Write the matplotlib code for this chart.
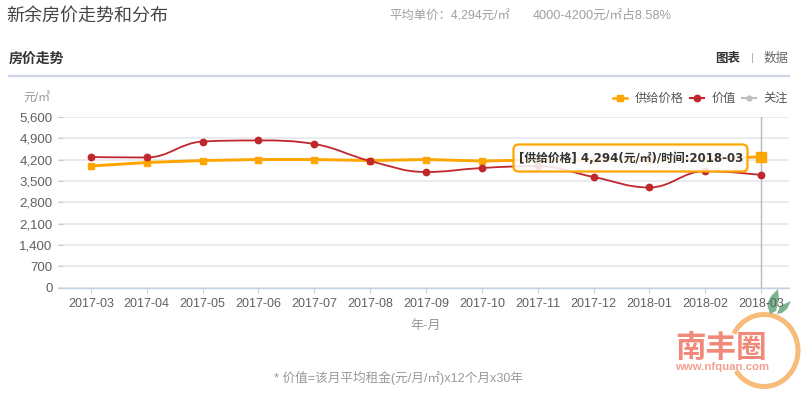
import matplotlib
matplotlib.use('Agg')
import matplotlib.pyplot as plt
from matplotlib.lines import Line2D
from matplotlib.patches import Arc, FancyBboxPatch, PathPatch, Polygon
from matplotlib.path import Path

plt.rcParams['font.family'] = ['Liberation Sans', 'Noto Sans CJK SC', 'DejaVu Sans']

months = ['2017-03', '2017-04', '2017-05', '2017-06', '2017-07', '2017-08', '2017-09',
          '2017-10', '2017-11', '2017-12', '2018-01', '2018-02', '2018-03']
supply = [3990, 4105, 4170, 4204, 4204, 4170, 4204, 4155, 4190, 4190, 4190, 4215, 4294]
value = [4285, 4270, 4795, 4830, 4713, 4155, 3793, 3925, 3990, 3630, 3285, 3826, 3695]
yticks = [0, 700, 1400, 2100, 2800, 3500, 4200, 4900, 5600]

W, H = 805, 393
ORANGE = '#ffa500'
RED = '#c0272d'
AXIS = '#c0d0e0'


def spline_path(xs, ys, smooth=1.5):
    # same smoothing highcharts uses for its spline series
    verts = [(xs[0], ys[0])]
    codes = [Path.MOVETO]
    n = len(xs)
    right = (xs[0], ys[0])
    for i in range(1, n):
        if i < n - 1:
            lx = (smooth * xs[i] + xs[i - 1]) / (smooth + 1)
            ly = (smooth * ys[i] + ys[i - 1]) / (smooth + 1)
            rx = (smooth * xs[i] + xs[i + 1]) / (smooth + 1)
            ry = (smooth * ys[i] + ys[i + 1]) / (smooth + 1)
            slope = (ry - ly) / (rx - lx)
            corr = slope * (xs[i] - lx) + ly - ys[i]
            ly -= corr
            ry -= corr
            if (ly > ys[i] and ly > ys[i - 1]) or (ly < ys[i] and ly < ys[i - 1]):
                ly = max(ys[i], ys[i - 1]) if ly > ys[i] else min(ys[i], ys[i - 1])
                ry = 2 * ys[i] - ly
            if (ry > ys[i] and ry > ys[i + 1]) or (ry < ys[i] and ry < ys[i + 1]):
                ry = max(ys[i], ys[i + 1]) if ry > ys[i] else min(ys[i], ys[i + 1])
                ly = 2 * ys[i] - ry
        else:
            lx, ly = xs[i], ys[i]
            rx, ry = xs[i], ys[i]
        verts += [right, (lx, ly), (xs[i], ys[i])]
        codes += [Path.CURVE4, Path.CURVE4, Path.CURVE4]
        right = (rx, ry)
    return Path(verts, codes)


def pixel_axes(zorder):
    a = fig.add_axes([0, 0, 1, 1], facecolor='none', zorder=zorder)
    a.set_xlim(0, W)
    a.set_ylim(H, 0)
    a.axis('off')
    return a


fig = plt.figure(figsize=(W / 100, H / 100), dpi=100, facecolor='white')

# watermark sits under the chart so the tick labels show over it
logo = pixel_axes(0)
logo.add_patch(Arc((764, 350.5), 68, 72, theta1=-151, theta2=144, color='#f7bb7a', lw=3.6))
logo.add_patch(Polygon([(770, 314), (767, 304), (771, 296), (778, 289), (779, 300), (776, 311)],
                       closed=True, fc='#7cb48f', ec='none'))
logo.add_patch(Polygon([(777, 314), (780, 306), (791, 301), (787, 309), (782, 313)],
                       closed=True, fc='#7cb48f', ec='none'))
logo.text(721, 348.5, '南丰圈', fontsize=22, color='#f0897a', fontweight='bold', ha='center', va='center')
logo.text(722, 367.5, 'www.nfquan.com', fontsize=8.2, color='#f2a090', fontweight='bold', ha='center',
          va='center')

# chart axes
ax = fig.add_axes([58 / W, 1 - 287.5 / H, (789 - 58) / W, (287.5 - 117) / H], facecolor='none', zorder=1)
xs = list(range(len(months)))
ax.set_xlim(-0.59, 12.5)
ax.set_ylim(0, 5600)
ax.set_xticks(xs)
ax.set_xticklabels(months)
ax.set_yticks(yticks)
ax.set_yticklabels([f'{v:,}' for v in yticks])
ax.grid(axis='y', color='#e4e6ea', lw=1.1)
ax.set_axisbelow(True)
for s in ['top', 'right', 'left']:
    ax.spines[s].set_visible(False)
ax.spines['bottom'].set_color(AXIS)
ax.spines['bottom'].set_linewidth(1)
ax.tick_params(axis='x', length=3.6, width=0.8, color=AXIS, labelsize=9, labelcolor='#606060', pad=4)
ax.tick_params(axis='y', direction='in', length=3.6, width=0.8, color=AXIS, labelsize=9.5, labelcolor='#606060', pad=4)

ax.axvline(xs[-1], color='#b5b8bd', lw=1, zorder=2)
ax.plot(xs, supply, color=ORANGE, lw=2.1, solid_capstyle='round', zorder=3)
ax.plot(xs[:-1], supply[:-1], ls='none', marker='s', ms=4.6, color=ORANGE, zorder=3)
ax.plot(xs[-1], supply[-1], ls='none', marker='s', ms=7.2, color=ORANGE, zorder=3)
ax.add_patch(PathPatch(spline_path(xs, value), fc='none', ec=RED, lw=1.3, zorder=4))
ax.plot(xs, value, ls='none', marker='o', ms=4.6, color=RED, zorder=4)

handles = [
    Line2D([], [], color=ORANGE, lw=1.8, marker='s', ms=5),
    Line2D([], [], color=RED, lw=1.5, marker='o', ms=4.6),
    Line2D([], [], color='#c0c0c0', lw=1.5, marker='o', ms=3.5),
]
ax.legend(handles, ['供给价格', '价值', '关注'], ncol=3, frameon=False, fontsize=8.8,
          labelcolor='#555555', loc='lower right', bbox_to_anchor=(1.002, 1.055),
          borderaxespad=0.1, borderpad=0.1, handlelength=1.15, handletextpad=0.65,
          columnspacing=0.45)

# page furniture in pixel coordinates
page = pixel_axes(2)


def label(x, y, s, size=9, color='#999999', ha='left', **kw):
    page.text(x, y, s, fontsize=size, color=color, ha=ha, va='center', **kw)


label(6.5, 17, '新余房价走势和分布', size=13, color='#444444')
label(389, 16, '平均单价：4,294元/㎡', color='#a0a0a0', size=8.9)
label(533, 16, '4000-4200元/㎡占8.58%', color='#a0a0a0', size=9.2)
label(9, 59, '房价走势', size=10, color='#333333', fontweight='bold')
label(715, 59, '图表', size=9, color='#333333', fontweight='bold')
label(752, 58, '|', size=8, color='#aaaaaa', ha='center')
label(764, 59, '数据', size=9, color='#666666')
page.plot([9, 789], [76, 76], color='#d0d3e3', lw=1.6)
label(23, 98, '元/㎡', size=8.6)
label(425.5, 326, '年-月', size=9.4, ha='center')
label(274, 377.5, '* 价值=该月平均租金(元/月/㎡)x12个月x30年', size=9.1)

# tooltip
page.add_patch(FancyBboxPatch((515, 146), 233, 27, boxstyle='round,pad=0,rounding_size=5',
                              fc='#000000', ec='none', alpha=0.08, zorder=5))
page.add_patch(FancyBboxPatch((513.5, 144.5), 234, 27, boxstyle='round,pad=0,rounding_size=5',
                              fc=(1, 1, 1, 0.87), ec=ORANGE, lw=1.6, zorder=6))
page.text(519, 158.5, '[供给价格] 4,294(元/㎡)/时间:2018-03', fontsize=8.5, color='#333333',
          fontweight='bold', va='center', zorder=7, family=['DejaVu Sans', 'Noto Sans CJK SC'])

fig.savefig('out.png', dpi=100)
